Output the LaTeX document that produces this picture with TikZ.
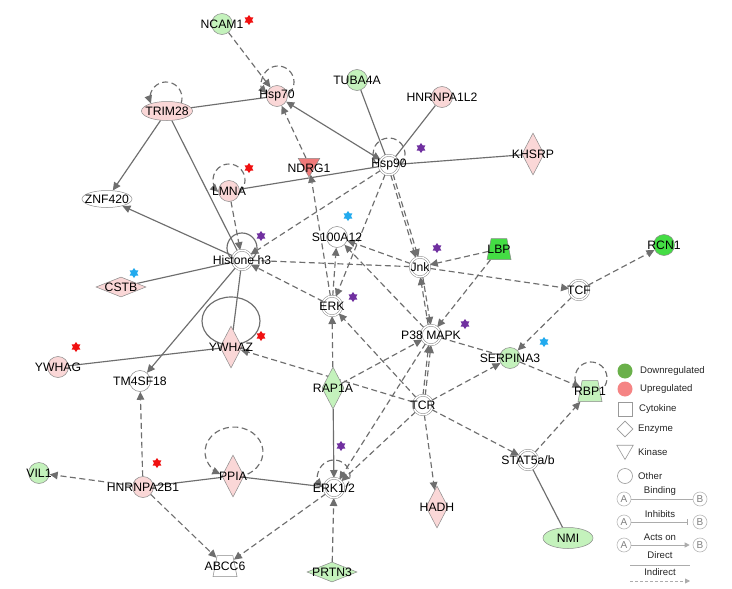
\documentclass[tikz,border=0pt]{standalone}
\usepackage{fontspec}
\setmainfont{Liberation Sans}
\usepackage{tikz}
\usetikzlibrary{shapes.geometric,arrows.meta,backgrounds}
\definecolor{upfill}{HTML}{FAD7D7}
\definecolor{downfill}{HTML}{C4F2BC}
\definecolor{brightfill}{HTML}{44DD44}
\definecolor{kinfill}{HTML}{F07A7A}
\definecolor{linecol}{HTML}{8A8A8A}
\definecolor{edgecol}{HTML}{6E6E6E}
\definecolor{starred}{HTML}{F01010}
\definecolor{starblue}{HTML}{22AAEE}
\definecolor{starpurple}{HTML}{7030A0}
\definecolor{legdown}{HTML}{6AB04A}
\definecolor{legup}{HTML}{F58484}

\begin{document}
\begin{tikzpicture}[x=1pt, y=-1pt,
                every node/.style={font=\fontsize{12.2}{13}\selectfont},
                mol/.style={circle, draw=linecol, line width=0.5pt, minimum size=21pt, inner sep=0pt},
                other/.style={circle, draw=linecol, fill=white, double=white, double distance=1.5pt, line width=0.5pt, minimum size=19.5pt, inner sep=0pt},
                enzyme/.style={diamond, draw=linecol, line width=0.5pt, minimum width=22pt, minimum height=42pt, inner sep=0pt},
                flatenzyme/.style={diamond, draw=linecol, line width=0.5pt, minimum width=50pt, minimum height=20pt, inner sep=0pt},
                oval/.style={ellipse, draw=linecol, line width=0.5pt, minimum width=50pt, minimum height=18pt, inner sep=0pt},
                transporter/.style={trapezium, trapezium left angle=72, trapezium right angle=72, trapezium stretches=true, draw=linecol, line width=0.5pt, minimum width=24pt, minimum height=21pt, inner sep=0pt},
                kinase/.style={regular polygon, regular polygon sides=3, shape border rotate=180, draw=linecol, line width=0.5pt, minimum size=25pt, inner sep=0pt},
                direct/.style={draw=edgecol, line width=1.15pt},
                indirect/.style={direct, dash pattern=on 6pt off 3.5pt},
                arr/.style={-{Triangle[length=8pt, width=7.5pt]}},
                arrs/.style={{Triangle[length=8pt, width=7.5pt]}-{Triangle[length=8pt, width=7.5pt]}},
                flag/.style={star, star points=6, star point ratio=1.6, minimum size=10pt, inner sep=0pt},
                legtext/.style={font=\fontsize{9.6}{10}\selectfont, text=black!85, inner sep=0pt},
                legline/.style={draw=gray!65, line width=0.8pt},
                legab/.style={circle, draw=gray!55, line width=0.6pt, minimum size=14pt, inner sep=0pt, text=gray, font=\fontsize{10}{10}\selectfont}]
                \useasboundingbox (0,0) rectangle (732,589);

                \foreach \n/\lab/\x/\y/\c in {ncam/NCAM1/222/24/downfill, hsp70/Hsp70/277/96/upfill, tuba/TUBA4A/357/80/downfill, hnrnpa/HNRNPA1L2/442/97/upfill, lmna/LMNA/229/191/upfill, s100/S100A12/337/237/white, rcn/RCN1/664/245/brightfill, serpina/SERPINA3/510/358/downfill, ywhag/YWHAG/58/367/upfill, tm4/TM4SF18/140/381/white, hnrnpb/HNRNPA2B1/143/487/upfill, vil/VIL1/39/473/downfill} {
                    \node[mol, fill=\c, label=center:\lab] (\n) at (\x,\y) {};
                }
                \foreach \n/\lab/\x/\y in {hsp90/Hsp90/389/165, histone/Histone h3/242/260, jnk/Jnk/420/267, tcf/TCF/579/290, erk/ERK/332/306, p38/P38 MAPK/431/335, tcr/TCR/423/405, erk12/{ERK1/2}/334/488, stat/{STAT5a/b}/528/460} {
                    \node[other, label=center:\lab] (\n) at (\x,\y) {};
                }
                \foreach \n/\lab/\x/\y/\c in {khsrp/KHSRP/533/154/upfill, ywhaz/YWHAZ/231/347/upfill, rap/RAP1A/333/388/downfill, ppia/PPIA/233/476/upfill, hadh/HADH/437/507/upfill} {
                    \node[enzyme, fill=\c, label=center:\lab] (\n) at (\x,\y) {};
                }
                \foreach \n/\lab/\x/\y/\c in {cstb/CSTB/121/287/upfill, prtn/PRTN3/332/572/downfill} {
                    \node[flatenzyme, fill=\c, label=center:\lab] (\n) at (\x,\y) {};
                }
                \foreach \n/\lab/\x/\y/\c in {lbp/LBP/499/249/brightfill, rbp/RBP1/590/391/downfill, abcc/ABCC6/225/566/white} {
                    \node[transporter, fill=\c, label=center:\lab] (\n) at (\x,\y) {\phantom{M}};
                }
                \node[oval, fill=upfill, minimum width=51pt, minimum height=19pt, label=center:TRIM28] (trim) at (167,111) {};
                \node[oval, fill=white, minimum height=17pt, label=center:ZNF420] (znf) at (107,199) {};
                \node[oval, fill=downfill, minimum height=21pt, label=center:NMI] (nmi) at (568,538) {};
                \node[kinase, fill=kinfill, label={[yshift=-3.5pt]center:NDRG1}] (ndrg) at (309,164.5) {};

                \foreach \x/\y/\c [count=\i] in {249/20/starred, 249/168/starred, 261/336/starred, 76/347/starred, 157/463/starred, 348/216/starblue, 134/273/starblue, 544/342/starblue, 421/148/starpurple, 261/236/starpurple, 437/248/starpurple, 353/297/starpurple, 465/324/starpurple, 341/446/starpurple} {
                    \node[flag, fill=\c] (star\i) at (\x,\y) {};
                }

                \begin{scope}[on background layer]
                \fill[white] (0,0) rectangle (732,589);
                \draw[direct] (trim) -- (hsp70);
                \draw[direct, arr] (trim) -- (znf);
                \draw[direct] (trim) -- (histone);
                \draw[direct, arrs] (hsp90) -- (hsp70);
                \draw[direct] (tuba) -- (hsp90);
                \draw[direct] (hnrnpa) -- (hsp90);
                \draw[direct] (khsrp) -- (hsp90);
                \draw[direct] (lmna) -- (hsp90);
                \draw[direct, arr] (histone) -- (znf);
                \draw[direct] (cstb) -- (histone);
                \draw[direct, arr] (histone) -- (tm4);
                \draw[direct] (histone) -- (ywhaz);
                \draw[direct] (ywhag) -- (ywhaz);
                \draw[direct] (hnrnpb) -- (ppia);
                \draw[direct] (ppia) -- (erk12);
                \draw[direct, arr] (rap) -- (erk12);
                \draw[direct] (stat) -- (nmi);

                \draw[indirect, arr] (ncam) -- (hsp70);
                \draw[indirect, arr] (ndrg) -- (hsp70);
                \draw[indirect, arr] (erk) -- (ndrg);
                \draw[indirect, arr] (lmna) -- (histone);
                \draw[indirect, arr] (hsp90) -- (histone);
                \draw[indirect, arr] (hsp90) -- (erk);
                \draw[indirect, arr] (hsp90.-66) -- (jnk.100);
                \draw[indirect, arr] (hsp90.-80) -- (jnk.114);
                \draw[indirect, arr] (jnk) -- (s100);
                \draw[indirect, arr] (p38) -- (s100);
                \draw[indirect, arr] (erk) -- (s100);
                \draw[indirect, arr] (erk) -- (histone);
                \draw[indirect] (histone) -- (jnk);
                \draw[indirect, arr] (jnk) -- (tcf);
                \draw[indirect, arr] (lbp) -- (jnk);
                \draw[indirect, arr] (lbp) -- (p38);
                \draw[indirect, arr] (jnk.-74) -- (p38.92);
                \draw[indirect, arr] (p38.106) -- (jnk.-88);
                \draw[indirect, arr] (tcf) -- (rcn);
                \draw[indirect, arr] (tcf) -- (serpina);
                \draw[indirect] (p38) -- (serpina);
                \draw[indirect, arr] (serpina) -- (rbp);
                \draw[indirect, arr] (stat) -- (rbp);
                \draw[indirect, arr] (tcr) -- (stat);
                \draw[indirect, arr] (tcr) -- (serpina);
                \draw[indirect, arr] (tcr) -- (hadh);
                \draw[indirect, arr] (tcr.90) -- (p38.-103);
                \draw[indirect, arr] (tcr.77) -- (p38.-90);
                \draw[indirect, arr] (tcr) -- (erk12);
                \draw[indirect, arr] (tcr) -- (erk);
                \draw[indirect, arr] (tcr) -- (ywhaz);
                \draw[indirect, arr] (rap) -- (p38);
                \draw[indirect, arr] (rap) -- (erk);
                \draw[indirect, arr] (p38) -- (erk12);
                \draw[indirect, arr] (prtn) -- (erk12);
                \draw[indirect, arr] (erk12) -- (abcc);
                \draw[indirect, arr] (hnrnpb) -- (abcc);
                \draw[indirect, arr] (hnrnpb) -- (vil);
                \draw[indirect, arr] (hnrnpb) -- (tm4);

                \draw[indirect, arr] ([shift={(1pt,14pt)}]hsp70.center) ++(-45:16pt) arc[start angle=-45, end angle=225, radius=16pt];
                \draw[indirect, arr] ([shift={(-1pt,13pt)}]trim.center) ++(-20:16pt) arc[start angle=-20, end angle=200, radius=16pt];
                \draw[indirect, arr] ([shift={(0pt,11pt)}]lmna.center) ++(-48:16pt) arc[start angle=-48, end angle=228, radius=16pt];
                \draw[indirect] ([shift={(0pt,11pt)}]hsp90.center) ++(-40:16pt) arc[start angle=-40, end angle=220, radius=16pt];
                \draw[indirect, arr] ([shift={(1pt,24pt)}]ppia.center) ++(-62:29pt and 25pt) arc[start angle=-62, end angle=242, x radius=29pt, y radius=25pt];
                \draw[indirect, arr] ([shift={(0pt,12pt)}]erk12.center) ++(-42:16pt) arc[start angle=-42, end angle=222, radius=16pt];
                \draw[indirect] ([shift={(1pt,13pt)}]rbp.center) ++(-30:16pt) arc[start angle=-30, end angle=210, radius=16pt];
                \draw[direct] ([shift={(0pt,12pt)}]histone.center) circle[radius=15pt];
                \draw[direct] ([shift={(0pt,26pt)}]ywhaz.center) ellipse[x radius=29pt, y radius=24pt];
                \end{scope}

                \node[circle, fill=legdown, minimum size=15pt, inner sep=0pt] (legdn) at (625,371) {};
                \node[circle, fill=legup, minimum size=15pt, inner sep=0pt] (legupc) at (625,389) {};
                \node[rectangle, draw=gray!80, line width=0.6pt, minimum size=14pt, inner sep=0pt] (legcyt) at (625,409) {};
                \node[diamond, draw=gray!80, line width=0.6pt, minimum size=16pt, inner sep=0pt] (legenz) at (625,429) {};
                \node[regular polygon, regular polygon sides=3, shape border rotate=180, draw=gray!80, line width=0.6pt, minimum size=19pt, inner sep=0pt] (legkin) at (625,450) {};
                \node[circle, draw=gray!80, line width=0.6pt, minimum size=15pt, inner sep=0pt] (legoth) at (625,476) {};
                \foreach \lab/\x/\y [count=\i] in {Downregulated/640/371, Upregulated/640/389, Cytokine/639/409, Enzyme/638/429, Kinase/638/452, Other/638/476} {
                    \node[legtext, anchor=west] (legtxt\i) at (\x,\y) {\lab};
                }
                \foreach \lab/\y [count=\i] in {Binding/499, Inhibits/522, Acts on/545} {
                    \node[legab] (lega\i) at (624,\y) {A};
                    \node[legab] (legb\i) at (700,\y) {B};
                    \node[legtext] (legrel\i) at (660,\y-7.5) {\lab};
                }
                \draw[legline] (lega1) -- (legb1);
                \draw[legline, -{Bar[width=6pt]}] (lega2) -- ([xshift=-5pt]legb2.west);
                \draw[legline, -{Triangle[length=5pt, width=5pt]}] (lega3) -- ([xshift=-3pt]legb3.west);
                \node[legtext] (legdir) at (660,555) {Direct};
                \node[legtext] (legind) at (660,572) {Indirect};
                \coordinate (dirl) at (630,565);
                \coordinate (dirr) at (690,565);
                \coordinate (indl) at (630,581);
                \coordinate (indr) at (690,581);
                \draw[legline] (dirl) -- (dirr);
                \draw[legline, dash pattern=on 3pt off 2pt, -{Triangle[length=5pt, width=5pt]}] (indl) -- (indr);
            \end{tikzpicture}
\end{document}
